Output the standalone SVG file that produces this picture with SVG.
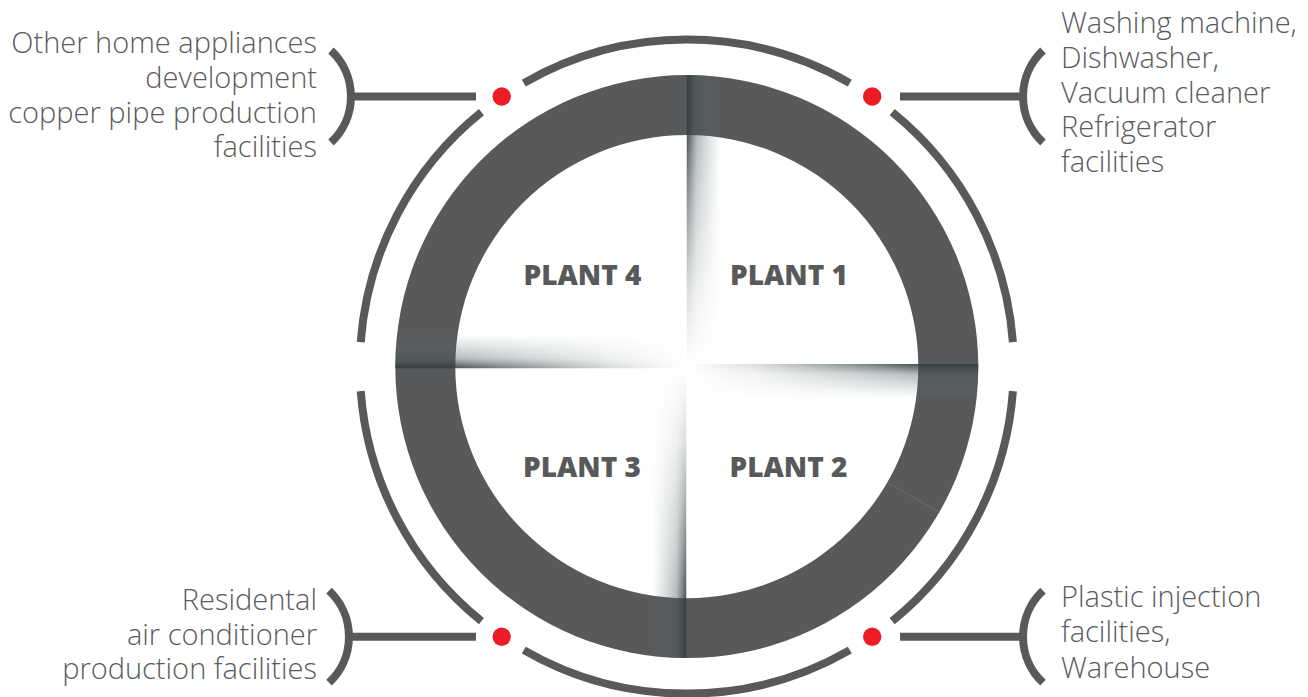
<svg xmlns="http://www.w3.org/2000/svg" xmlns:xlink="http://www.w3.org/1999/xlink" width="1308" height="697" viewBox="0 0 1308 697">
  <style>
    .lbl { font-family: "Open Sans", "Liberation Sans", sans-serif; font-weight: 300; font-size: 29px; fill: #5a5b5d; }
    .plant { font-family: "Open Sans", "Liberation Sans", sans-serif; font-weight: 800; font-size: 28px; fill: #58595b; text-anchor: middle; }
    .arc { fill: none; stroke: #58595b; stroke-width: 8; stroke-linecap: butt; }
    .dot { fill: #ed1c24; }
  </style>
  <defs>
    <linearGradient id="across" x1="0" y1="0" x2="0" y2="1">
      <stop offset="0" stop-color="#2f3b3c" stop-opacity="0.9"/>
      <stop offset="0.3" stop-color="#4a5b5c" stop-opacity="0.42"/>
      <stop offset="1" stop-color="#6a7b7c" stop-opacity="0"/>
    </linearGradient>
    <linearGradient id="along" x1="0" y1="0" x2="1" y2="0">
      <stop offset="0" stop-color="#000"/>
      <stop offset="0.25" stop-color="#333"/>
      <stop offset="0.6" stop-color="#b0b0b0"/>
      <stop offset="0.79" stop-color="#fff"/>
      <stop offset="1" stop-color="#fff"/>
    </linearGradient>
    <mask id="alongMask" maskUnits="userSpaceOnUse" x="-5" y="-5" width="310" height="50">
      <rect x="0" y="0" width="295" height="34" fill="url(#along)"/>
    </mask>
    <g id="shadow">
      <rect x="0" y="0" width="295" height="34" fill="url(#across)" mask="url(#alongMask)"/>
    </g>
    <clipPath id="discClip">
      <circle cx="686.8" cy="366.6" r="291.5"/>
    </clipPath>
  </defs>

  <rect width="1308" height="697" fill="#ffffff"/>

  <g id="ring">
    <path fill="#58595b" fill-rule="evenodd" d="M395.3,366.6 A291.5,291.5 0 1 1 978.3,366.6 A291.5,291.5 0 1 1 395.3,366.6 Z M455.3,366.6 A231.5,231.5 0 1 0 918.3,366.6 A231.5,231.5 0 1 0 455.3,366.6 Z"/>
    <line x1="888" y1="483" x2="940" y2="512.5" stroke="#7a7b7d" stroke-width="0.8" opacity="0.7"/>
    <g clip-path="url(#discClip)">
      <use xlink:href="#shadow" transform="translate(686.5,366) rotate(-90)"/>
      <use xlink:href="#shadow" transform="translate(686.5,364)"/>
      <use xlink:href="#shadow" transform="translate(686.5,367) rotate(90)"/>
      <use xlink:href="#shadow" transform="translate(686.5,368.5) rotate(180)"/>
    </g>
  </g>

  <g id="plant1"><text class="plant" x="789" y="285">PLANT 1</text></g>
  <g id="plant2"><text class="plant" x="788.5" y="477">PLANT 2</text></g>
  <g id="plant3"><text class="plant" x="582" y="477">PLANT 3</text></g>
  <g id="plant4"><text class="plant" x="582.5" y="285">PLANT 4</text></g>

  <g id="outer-arcs">
    <path class="arc" d="M523.8,83.1 A327,327 0 0 1 849.8,83.1"/>
    <path class="arc" d="M892.2,112.1 A327,327 0 0 1 1012.9,342.1"/>
    <path class="arc" d="M1012.9,391.1 A327,327 0 0 1 892.2,621.1"/>
    <path class="arc" d="M849.8,650.1 A327,327 0 0 1 523.8,650.1"/>
    <path class="arc" d="M481.4,621.1 A327,327 0 0 1 360.7,391.1"/>
    <path class="arc" d="M360.7,342.1 A327,327 0 0 1 481.4,112.1"/>
  </g>

  <g id="connectors">
    <path class="arc" d="M331,50.5 A63,63 0 0 1 331,142.5"/>
    <line class="arc" x1="350" y1="96.5" x2="476" y2="96.5"/>
    <path class="arc" d="M1043,50.5 A63,63 0 0 0 1043,142.5"/>
    <line class="arc" x1="900" y1="96.5" x2="1024" y2="96.5"/>
    <path class="arc" d="M329,590.7 A63,63 0 0 1 329,682.7"/>
    <line class="arc" x1="348" y1="636.7" x2="476" y2="636.7"/>
    <path class="arc" d="M1043,590.7 A63,63 0 0 0 1043,682.7"/>
    <line class="arc" x1="900" y1="636.7" x2="1024" y2="636.7"/>
  </g>

  <g id="dots">
    <circle class="dot" cx="501.7" cy="96.5" r="9.2"/>
    <circle class="dot" cx="872.2" cy="96.5" r="9.2"/>
    <circle class="dot" cx="501.7" cy="636.7" r="9.2"/>
    <circle class="dot" cx="872.2" cy="636.7" r="9.2"/>
  </g>

  <g id="label-topleft">
    <text class="lbl" text-anchor="end" x="317" y="53">Other home appliances</text>
    <text class="lbl" text-anchor="end" x="317" y="88">development</text>
    <text class="lbl" text-anchor="end" x="317" y="123">copper pipe production</text>
    <text class="lbl" text-anchor="end" x="317" y="157">facilities</text>
  </g>
  <g id="label-topright">
    <text class="lbl" x="1061" y="33">Washing machine,</text>
    <text class="lbl" x="1061" y="68">Dishwasher,</text>
    <text class="lbl" x="1061" y="103">Vacuum cleaner</text>
    <text class="lbl" x="1061" y="137">Refrigerator</text>
    <text class="lbl" x="1061" y="172">facilities</text>
  </g>
  <g id="label-bottomleft">
    <text class="lbl" text-anchor="end" x="317" y="610">Residental</text>
    <text class="lbl" text-anchor="end" x="317" y="645">air conditioner</text>
    <text class="lbl" text-anchor="end" x="317" y="679">production facilities</text>
  </g>
  <g id="label-bottomright">
    <text class="lbl" x="1061" y="607">Plastic injection</text>
    <text class="lbl" x="1061" y="642">facilities,</text>
    <text class="lbl" x="1061" y="678">Warehouse</text>
  </g>
</svg>
